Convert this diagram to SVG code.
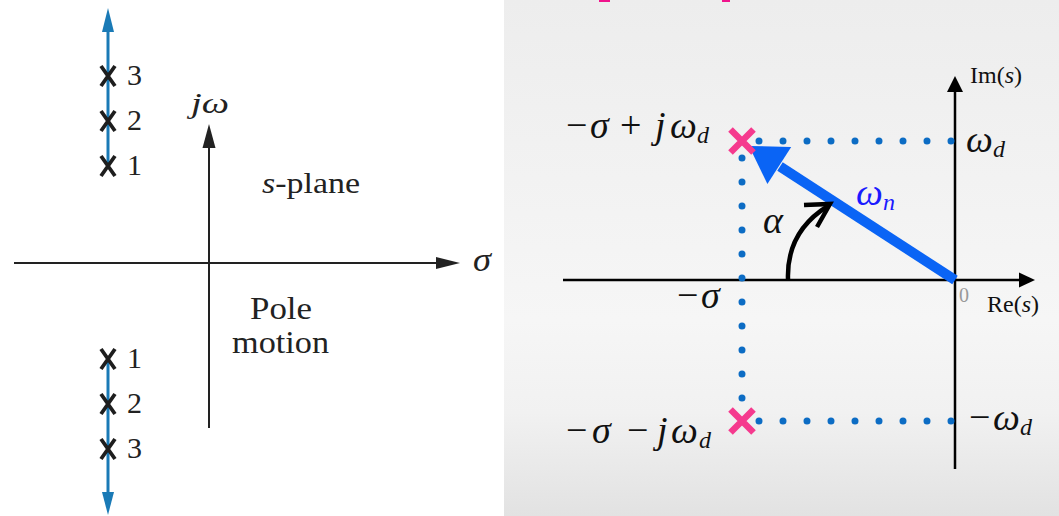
<svg xmlns="http://www.w3.org/2000/svg" width="1059" height="516" viewBox="0 0 1059 516">
<defs>
<linearGradient id="bg" x1="0" y1="0" x2="0" y2="1">
<stop offset="0" stop-color="#ededed"/>
<stop offset="0.62" stop-color="#f6f6f6"/>
<stop offset="0.8" stop-color="#f1f1f1"/>
<stop offset="1" stop-color="#e2e2e2"/>
</linearGradient>
</defs>
<style>
text{font-family:'Liberation Serif','DejaVu Serif','Times New Roman',serif}
.t{fill:#222}
.i{font-style:italic}
.ax{stroke:#222;stroke-width:2;fill:none}
.axh{fill:#222}
.blue{stroke:#1a7ab6;stroke-width:3;fill:none}
.blueh{fill:#1a7ab6}
.xm{stroke:#1e1e1e;stroke-width:3.8;fill:none}
.m{fill:#111}
.rax{stroke:#000;stroke-width:2.5;fill:none}
.raxh{fill:#000}
.dots{stroke:#0c6cc4;stroke-width:7;stroke-linecap:round;stroke-dasharray:0 24;fill:none}
.pk{stroke:#f53a8e;stroke-width:6.5;fill:none}
</style>
<rect x="0" y="0" width="1059" height="516" fill="#ffffff"/>
<rect x="504" y="0" width="555" height="516" fill="url(#bg)"/>
<rect x="599" y="0" width="11" height="2" fill="#f0148c"/>
<rect x="722" y="0" width="8" height="2" fill="#f0148c"/>

<g id="left-plane">
<g id="left-axes">
<line class="ax" x1="14" y1="263" x2="440" y2="263"/>
<polygon class="axh" points="460,263 436,257 436,269"/>
<line class="ax" x1="209" y1="428" x2="209" y2="144"/>
<polygon class="axh" points="209,124 202.5,148 215.5,148"/>
<text class="t i" x="473" y="271" font-size="34" textLength="18" lengthAdjust="spacingAndGlyphs">σ</text>
<text class="t i" x="191" y="113" font-size="30" textLength="38" lengthAdjust="spacingAndGlyphs">jω</text>
<text class="t" x="262" y="193" font-size="30" textLength="98" lengthAdjust="spacingAndGlyphs"><tspan class="i">s</tspan>-plane</text>
<text class="t" x="250" y="319" font-size="32" textLength="62" lengthAdjust="spacingAndGlyphs">Pole</text>
<text class="t" x="232" y="353" font-size="32" textLength="97" lengthAdjust="spacingAndGlyphs">motion</text>
</g>
<g id="upper-poles">
<line class="blue" x1="108" y1="28" x2="108" y2="166"/>
<polygon class="blueh" points="108,8 102,32 114,32"/>
<path class="xm" d="M101,66 L115,86 M115,66 L101,86"/>
<path class="xm" d="M101,111 L115,131 M115,111 L101,131"/>
<path class="xm" d="M101,156 L115,176 M115,156 L101,176"/>
<text class="t" x="127" y="85" font-size="30">3</text>
<text class="t" x="127" y="130" font-size="30">2</text>
<text class="t" x="127" y="175" font-size="30">1</text>
</g>
<g id="lower-poles">
<line class="blue" x1="108" y1="359" x2="108" y2="497"/>
<polygon class="blueh" points="108,515 102,492 114,492"/>
<path class="xm" d="M101,349 L115,369 M115,349 L101,369"/>
<path class="xm" d="M101,394 L115,414 M115,394 L101,414"/>
<path class="xm" d="M101,439 L115,459 M115,439 L101,459"/>
<text class="t" x="127" y="368" font-size="30">1</text>
<text class="t" x="127" y="413" font-size="30">2</text>
<text class="t" x="127" y="458" font-size="30">3</text>
</g>
</g>

<g id="right-plane">
<g id="right-axes">
<line class="rax" x1="563" y1="280" x2="1022" y2="280"/>
<polygon class="raxh" points="1035,280 1019,272.5 1019,287.5"/>
<line class="rax" x1="955" y1="469" x2="955" y2="89"/>
<polygon class="raxh" points="955,76 947,92 963,92"/>
<text class="m" x="970" y="83" font-size="24">Im(<tspan class="i">s</tspan>)</text>
<text class="m" x="987" y="312" font-size="24">Re(<tspan class="i">s</tspan>)</text>
<text x="959" y="302" font-size="20" style="fill:#999">0</text>
</g>
<g id="connectors">
<path class="dots" d="M759,141 H952"/>
<path class="dots" d="M742,158 V399"/>
<path class="dots" d="M759,421 H952"/>
<line x1="955" y1="280" x2="780" y2="166.5" stroke="#0a64f5" stroke-width="10"/>
<polygon fill="#0a64f5" points="749,146 791.2,147 767.4,184"/>
<path d="M788,279 C787,246 802,222 828,206" stroke="#000" stroke-width="4.5" fill="none"/>
<path d="M804,205 L830,204 L817,227" stroke="#000" stroke-width="4.5" fill="none"/>
</g>
<g id="pole-upper">
<path class="pk" d="M730.5,129.5 L753.5,152.5 M753.5,129.5 L730.5,152.5"/>
<text class="m" y="138" font-size="38"><tspan x="566">−</tspan><tspan x="590" class="i">σ</tspan><tspan x="620">+</tspan><tspan x="655" class="i">j</tspan><tspan x="670" class="i">ω</tspan><tspan x="697" y="143" class="i" font-size="24">d</tspan></text>
</g>
<g id="pole-lower">
<path class="pk" d="M730.5,409.5 L753.5,432.5 M753.5,409.5 L730.5,432.5"/>
<text class="m" y="443" font-size="38"><tspan x="566">−</tspan><tspan x="592" class="i">σ</tspan><tspan x="627">−</tspan><tspan x="657" class="i">j</tspan><tspan x="671" class="i">ω</tspan><tspan x="699" y="448" class="i" font-size="24">d</tspan></text>
</g>
<g id="labels">
<text class="m" y="308" font-size="38"><tspan x="677">−</tspan><tspan x="701" class="i">σ</tspan></text>
<text class="m" y="152" font-size="38"><tspan x="966" class="i">ω</tspan><tspan x="993" y="157" class="i" font-size="24">d</tspan></text>
<text class="m" y="430" font-size="38"><tspan x="969">−</tspan><tspan x="993" class="i">ω</tspan><tspan x="1020" y="435" class="i" font-size="24">d</tspan></text>
<text class="m i" x="763" y="233" font-size="38">α</text>
<text class="m" y="205" font-size="38" style="fill:#1a1aff"><tspan x="856" class="i">ω</tspan><tspan x="883" y="210" class="i" font-size="24">n</tspan></text>
</g>
</g>
</svg>
